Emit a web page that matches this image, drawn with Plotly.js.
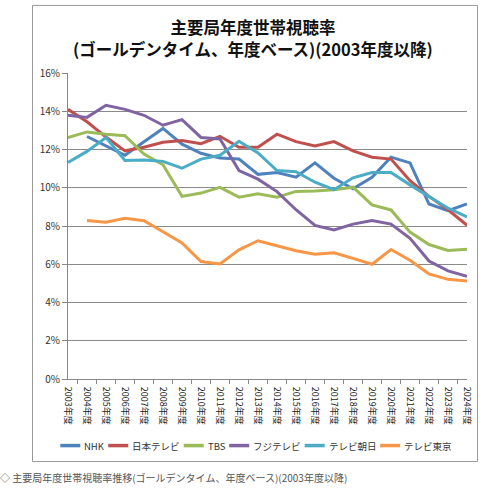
<!DOCTYPE html>
<html>
<head>
<meta charset="utf-8">
<script src="https://cdn.plot.ly/plotly-3.0.1.min.js"></script>
<style>
html,body{margin:0;padding:0;background:#fff;}
#chart{width:482px;height:493px;}
</style>
</head>
<body>
<div id="chart"></div>
<script>
const years = ["2003年度","2004年度","2005年度","2006年度","2007年度","2008年度","2009年度","2010年度","2011年度","2012年度","2013年度","2014年度","2015年度","2016年度","2017年度","2018年度","2019年度","2020年度","2021年度","2022年度","2023年度","2024年度"];
const seriesNames = ["NHK","日本テレビ","TBS","フジテレビ","テレビ朝日","テレビ東京"];
const nhk    = [null,12.68,12.2,11.7,12.4,13.1,12.28,11.8,11.55,11.5,10.7,10.8,10.55,11.3,10.5,9.95,10.55,11.6,11.3,9.15,8.8,9.15];
const ntv    = [14.1,13.45,12.65,11.93,12.12,12.38,12.47,12.3,12.69,12.12,12.12,12.8,12.41,12.19,12.41,11.93,11.6,11.5,10.37,9.55,8.85,8.04];
const tbs    = [12.62,12.92,12.8,12.72,11.76,11.2,9.55,9.72,10.02,9.51,9.68,9.51,9.81,9.83,9.9,10.03,9.1,8.84,7.68,7.03,6.72,6.78];
const fuji   = [13.79,13.68,14.31,14.1,13.79,13.27,13.56,12.63,12.55,10.9,10.45,9.8,8.85,8.03,7.79,8.1,8.29,8.1,7.36,6.17,5.65,5.37];
const asahi  = [11.32,11.9,12.63,11.43,11.45,11.38,11.02,11.5,11.7,12.43,11.82,10.9,10.84,10.29,9.9,10.52,10.8,10.8,10.15,9.56,8.93,8.48];
const tokyo  = [null,8.29,8.2,8.4,8.28,7.7,7.12,6.14,6.02,6.75,7.23,6.97,6.71,6.52,6.6,6.31,6.0,6.77,6.21,5.49,5.21,5.12];
const yTicks = [0,2,4,6,8,10,12,14,16];
const titleLine1 = "主要局年度世帯視聴率";
const titleLine2 = "(ゴールデンタイム、年度ベース)(2003年度以降)";
const footerText = "◇ 主要局年度世帯視聴率推移(ゴールデンタイム、年度ベース)(2003年度以降)";

const colors = ["#4F81BD","#C0504D","#9BBB59","#8064A2","#4BACC6","#F79646"];
const allSeries = [nhk, ntv, tbs, fuji, asahi, tokyo];
const FONT = '"Noto Sans CJK JP", "Noto Sans", sans-serif';

const traces = allSeries.map((vals, i) => ({
  type: 'scatter',
  mode: 'lines',
  x: years,
  y: vals,
  name: seriesNames[i],
  line: {color: colors[i], width: 3},
  connectgaps: false,
  showlegend: false,
  hoverinfo: 'skip'
}));

const L = 68, R = 467, T = 72.7, B = 379.3;
const W = R - L, H = B - T;
const px = x => (x - L) / W;
const py = y => (B - y) / H;

// Legend (one row, short swatches as in the reference), laid out from measured text widths
const legFontSize = 9.5;
const ctx = document.createElement('canvas').getContext('2d');
ctx.font = legFontSize + 'px "Noto Sans CJK JP"';
const swatch = 20, swGap = 2, itemGap = 6, legCenter = 255, legY = 446;
const textW = seriesNames.map(n => ctx.measureText(n).width);
const totalW = textW.reduce((a, w) => a + swatch + swGap + w, 0) + itemGap * (seriesNames.length - 1);
let cx = legCenter - totalW / 2;
const legShapes = [], legAnn = [];
seriesNames.forEach((n, i) => {
  legShapes.push({
    type: 'line', xref: 'paper', yref: 'paper',
    x0: px(cx), x1: px(cx + swatch), y0: py(legY), y1: py(legY),
    line: {color: colors[i], width: 3.5}
  });
  legAnn.push({
    text: n, xref: 'paper', yref: 'paper',
    x: px(cx + swatch + swGap), xanchor: 'left',
    y: py(legY), yanchor: 'middle',
    showarrow: false,
    font: {family: FONT, size: legFontSize, color: '#333'}
  });
  cx += swatch + swGap + textW[i] + itemGap;
});

const titleFont = {family: FONT, size: 16.5, color: '#111', weight: 'bold'};

const layout = {
  width: 482,
  height: 493,
  margin: {l: L, r: 482 - R, t: T, b: 493 - B, pad: 0},
  paper_bgcolor: '#fff',
  plot_bgcolor: '#fff',
  font: {family: FONT, size: 10, color: '#333'},
  title: {
    text: titleLine1,
    font: titleFont,
    x: 253 / 482, xref: 'container', xanchor: 'center',
    y: 1 - 28 / 493, yref: 'container', yanchor: 'middle'
  },
  xaxis: {
    type: 'category',
    categoryorder: 'array',
    categoryarray: years,
    showgrid: false,
    showline: true,
    linecolor: '#888',
    linewidth: 1,
    ticks: 'outside',
    tickson: 'boundaries',
    ticklen: 4,
    tickcolor: '#888',
    tickangle: 90,
    ticklabelstandoff: 5,
    tickfont: {family: FONT, size: 9, color: '#222'},
    zeroline: false,
    fixedrange: true
  },
  yaxis: {
    range: [0, 16],
    tickvals: yTicks,
    ticktext: yTicks.map(v => v + '%'),
    showgrid: true,
    gridcolor: '#8a8a8a',
    gridwidth: 1,
    showline: true,
    linecolor: '#888',
    ticks: 'outside',
    ticklen: 5,
    tickcolor: '#888',
    tickfont: {family: FONT, size: 10, color: '#333'},
    zeroline: false,
    fixedrange: true
  },
  shapes: [{
    type: 'rect', xref: 'paper', yref: 'paper',
    x0: px(32.5), x1: px(477.5), y0: py(462), y1: py(5),
    line: {color: '#999', width: 1}, fillcolor: 'rgba(0,0,0,0)', layer: 'below'
  }].concat(legShapes),
  annotations: [{
    text: titleLine2,
    xref: 'paper', yref: 'paper',
    x: px(253), xanchor: 'center',
    y: py(49), yanchor: 'middle',
    showarrow: false,
    font: titleFont
  }, {
    text: footerText,
    xref: 'paper', yref: 'paper',
    x: px(-2), xanchor: 'left',
    y: py(478), yanchor: 'middle',
    showarrow: false,
    font: {family: FONT, size: 10, color: '#555'}
  }].concat(legAnn)
};

Plotly.newPlot('chart', traces, layout, {displayModeBar: false, staticPlot: true});
</script>
</body>
</html>
